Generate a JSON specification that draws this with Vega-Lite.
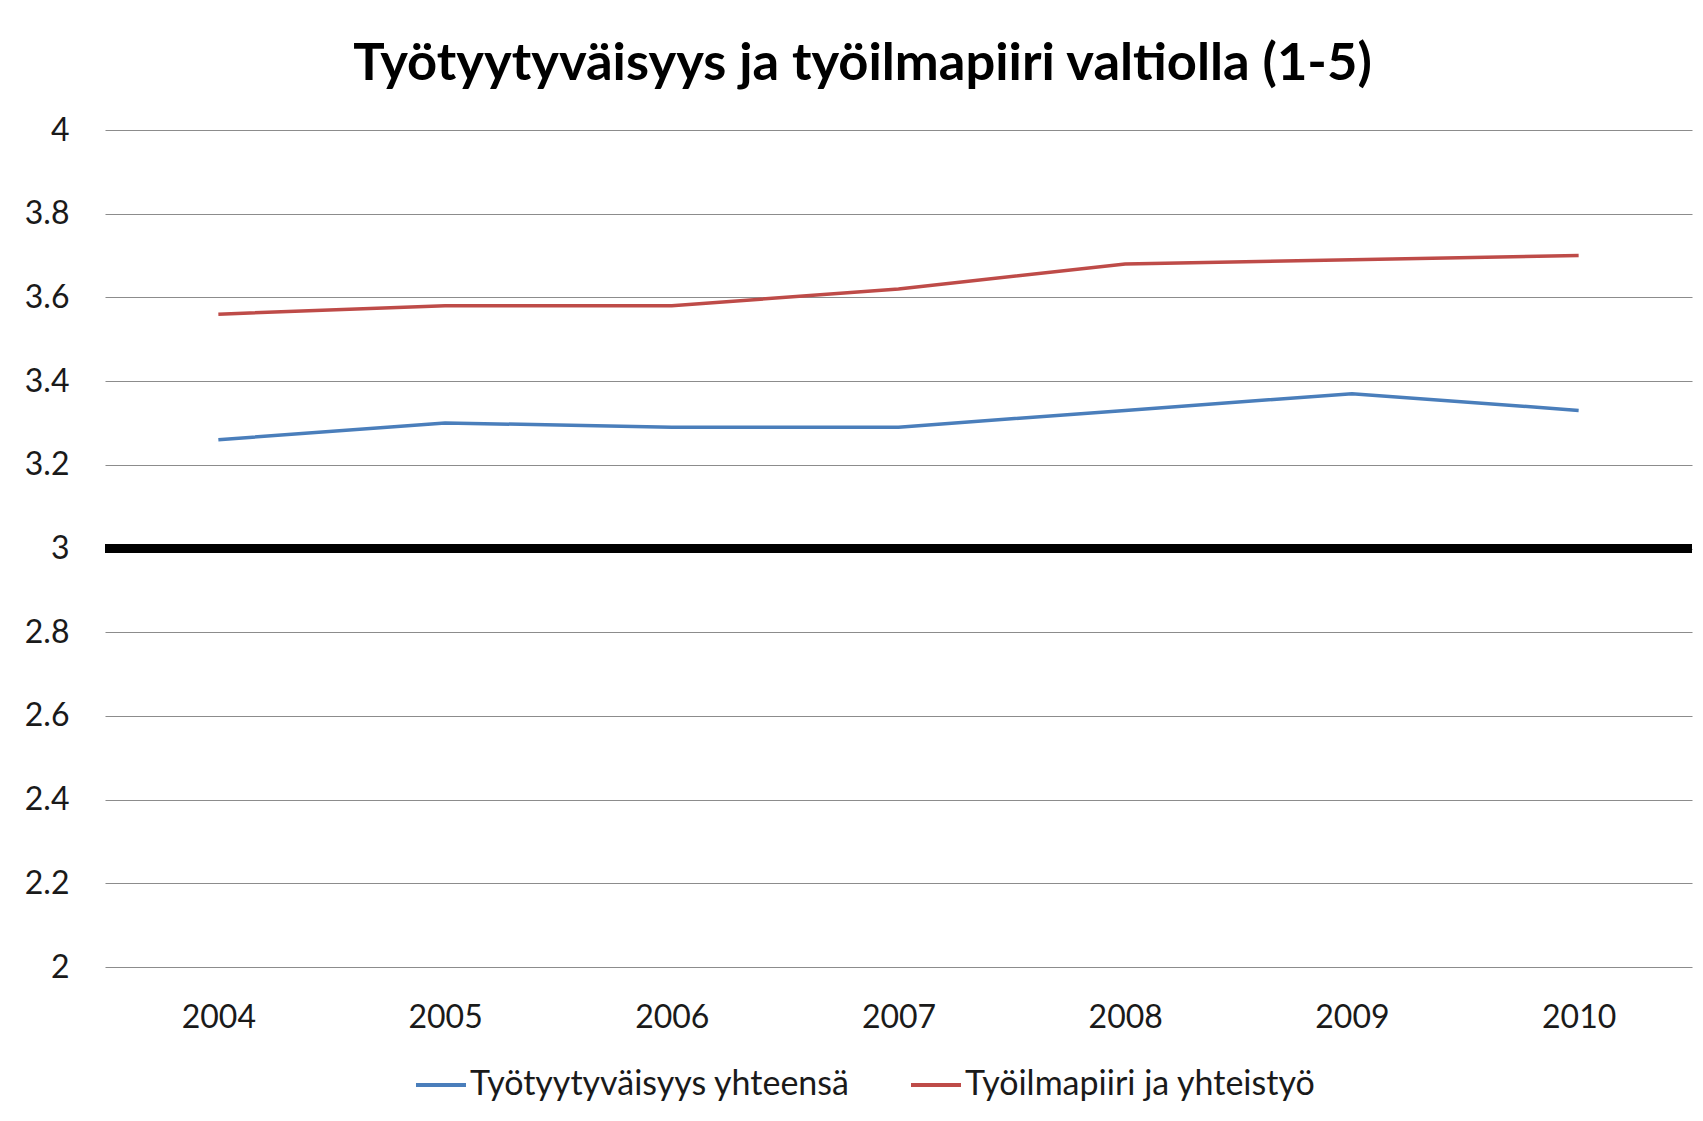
{
  "$schema": "https://vega.github.io/schema/vega-lite/v6.json",
  "autosize": {"type": "none"},
  "width": 1587,
  "height": 837,
  "padding": {"left": 105, "top": 130, "right": 11, "bottom": 154},
  "background": "white",
  "title": {
    "text": "Työtyytyväisyys ja työilmapiiri valtiolla (1-5)",
    "font": "Lato",
    "fontSize": 52.5,
    "fontWeight": "bold",
    "color": "black",
    "anchor": "middle",
    "dx": -36,
    "offset": 23
  },
  "config": {
    "view": {"stroke": null},
    "font": "Lato"
  },
  "data": {
    "values": [
      {"year": "2004", "series": "Työtyytyväisyys yhteensä", "value": 3.26},
      {"year": "2005", "series": "Työtyytyväisyys yhteensä", "value": 3.30},
      {"year": "2006", "series": "Työtyytyväisyys yhteensä", "value": 3.29},
      {"year": "2007", "series": "Työtyytyväisyys yhteensä", "value": 3.29},
      {"year": "2008", "series": "Työtyytyväisyys yhteensä", "value": 3.33},
      {"year": "2009", "series": "Työtyytyväisyys yhteensä", "value": 3.37},
      {"year": "2010", "series": "Työtyytyväisyys yhteensä", "value": 3.33},
      {"year": "2004", "series": "Työilmapiiri ja yhteistyö", "value": 3.56},
      {"year": "2005", "series": "Työilmapiiri ja yhteistyö", "value": 3.58},
      {"year": "2006", "series": "Työilmapiiri ja yhteistyö", "value": 3.58},
      {"year": "2007", "series": "Työilmapiiri ja yhteistyö", "value": 3.62},
      {"year": "2008", "series": "Työilmapiiri ja yhteistyö", "value": 3.68},
      {"year": "2009", "series": "Työilmapiiri ja yhteistyö", "value": 3.69},
      {"year": "2010", "series": "Työilmapiiri ja yhteistyö", "value": 3.70}
    ]
  },
  "layer": [
    {
      "mark": {"type": "line", "strokeWidth": 3.5},
      "encoding": {
        "x": {
          "field": "year",
          "type": "ordinal",
          "scale": {"type": "point", "padding": 0.5},
          "axis": {
            "title": null,
            "labelAngle": 0,
            "ticks": false,
            "domain": false,
            "labelFont": "Lato",
            "labelFontSize": 32,
            "labelColor": "#1a1a1a",
            "labelPadding": 35
          }
        },
        "y": {
          "field": "value",
          "type": "quantitative",
          "scale": {"domain": [2, 4], "nice": false, "zero": false},
          "axis": {
            "title": null,
            "values": [2, 2.2, 2.4, 2.6, 2.8, 3, 3.2, 3.4, 3.6, 3.8, 4],
            "format": "~g",
            "ticks": false,
            "domain": false,
            "grid": true,
            "gridColor": "#8c8c8c",
            "gridWidth": 1.2,
            "labelFont": "Lato",
            "labelFontSize": 32,
            "labelColor": "#1a1a1a",
            "labelPadding": 36
          }
        },
        "color": {
          "field": "series",
          "type": "nominal",
          "sort": ["Työtyytyväisyys yhteensä", "Työilmapiiri ja yhteistyö"],
          "scale": {
            "domain": ["Työtyytyväisyys yhteensä", "Työilmapiiri ja yhteistyö"],
            "range": ["#4a7ebb", "#be4b48"]
          },
          "legend": {
            "title": null,
            "orient": "none",
            "legendX": 309,
            "legendY": 928,
            "direction": "horizontal",
            "symbolType": "stroke",
            "symbolSize": 2500,
            "symbolStrokeWidth": 4,
            "labelFont": "Lato",
            "labelFontSize": 34,
            "labelColor": "#1a1a1a",
            "labelOffset": 2,
            "columnPadding": 53,
            "labelLimit": 600
          }
        }
      }
    },
    {
      "data": {"values": [{"ref": 3}]},
      "mark": {"type": "rule", "color": "black", "strokeWidth": 9},
      "encoding": {
        "y": {"field": "ref", "type": "quantitative"}
      }
    }
  ]
}
